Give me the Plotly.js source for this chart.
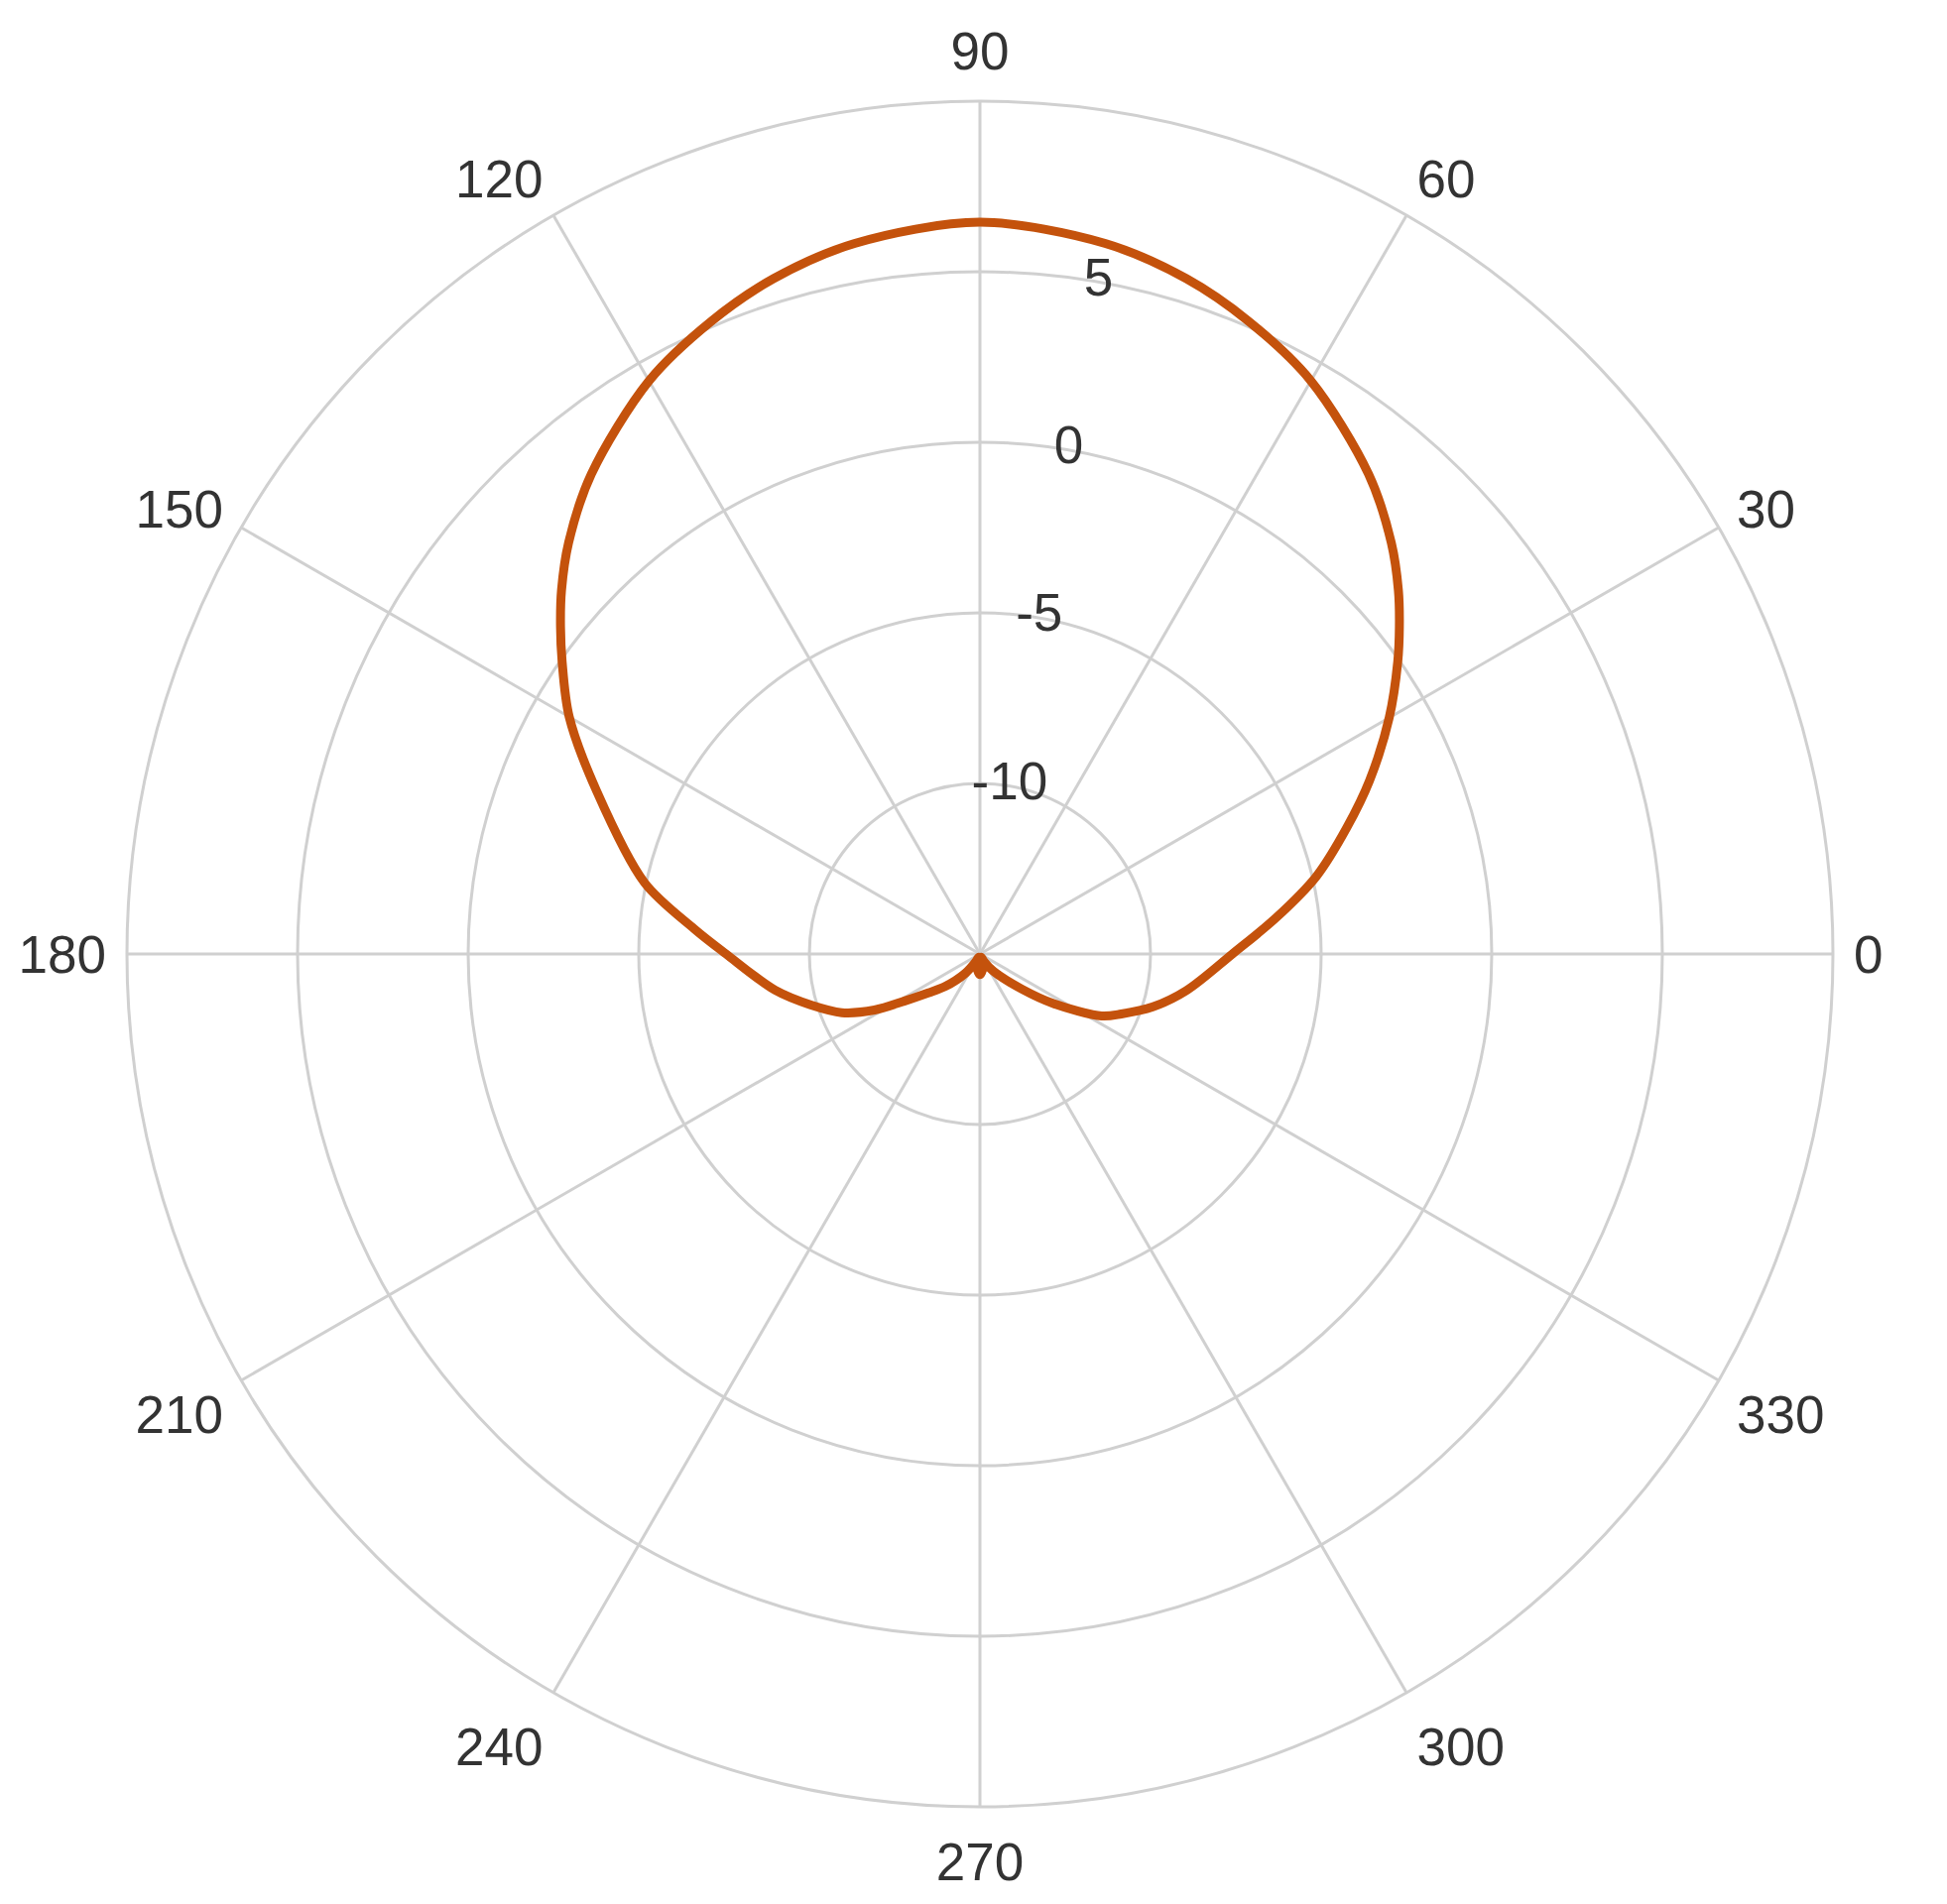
<!DOCTYPE html>
<html>
<head>
<meta charset="utf-8">
<script src="https://cdn.plot.ly/plotly-3.0.1.min.js"></script>
<style>
  html, body { margin: 0; padding: 0; background: #ffffff; }
  #chart { width: 1963px; height: 1920px; }
</style>
</head>
<body>
<div id="chart"></div>
<script>
const angles = [0, 7, 13, 19, 24, 30, 35, 38, 41, 45, 51, 60, 67, 73, 80, 90,
  100, 107, 113, 120, 129, 135, 139, 142, 145, 150, 157, 168, 175, 180,
  190, 197, 203, 208, 212, 217, 223, 233, 242, 250, 260, 270, 280, 290,
  298, 308, 320, 326, 333, 337, 343, 350, 360];
// Gain values (dB) read at those angles
const gainDb = [-7.6, -6.25, -4.88, -3.63, -2.5, -1.15, -0.05, 0.6, 1.25, 2.05, 3.1, 4.4, 5.15, 5.7, 6.15, 6.45,
  6.15, 5.7, 5.15, 4.4, 3.1, 2.05, 1.25, 0.6, -0.05, -1.1, -2.8, -4.95, -6.6, -7.56,
  -8.9, -9.85, -10.6, -11.5, -12.4, -13.1, -13.6, -14.3, -14.75, -14.9, -14.55, -14.4, -14.55, -14.9,
  -14.75, -14.35, -13.4, -12.4, -11.0, -10.5, -9.7, -8.85, -7.6];

const angularTicks = [0, 30, 60, 90, 120, 150, 180, 210, 240, 270, 300, 330];
const angularTickText = ['0', '30', '60', '90', '120', '150', '180', '210', '240', '270', '300', '330'];
const radialTicks = [-10, -5, 0, 5];
const radialTickText = ['-10', '-5', '0', '5'];
const radialLabelAngle = 80;
const radialRange = [-15, 10];

const gridColor = '#d0d0d0';
const textColor = '#333333';
const fontFamily = 'Liberation Sans, Arial, Helvetica, sans-serif';

const curve = {
  type: 'scatterpolar',
  mode: 'lines',
  r: gainDb,
  theta: angles,
  line: { color: '#c4520c', width: 9, shape: 'spline', smoothing: 0.9 },
  hoverinfo: 'skip'
};

// radial tick labels, centred on their rings along one direction
const radialLabels = {
  type: 'scatterpolar',
  mode: 'text',
  r: radialTicks,
  theta: radialTicks.map(() => radialLabelAngle),
  text: radialTickText,
  textposition: 'middle center',
  textfont: { family: fontFamily, size: 53, color: textColor },
  cliponaxis: false,
  hoverinfo: 'skip'
};

const layout = {
  width: 1963,
  height: 1920,
  margin: { l: 128, r: 115, t: 102, b: 98 },
  paper_bgcolor: '#ffffff',
  showlegend: false,
  font: { family: fontFamily, color: textColor, size: 53 },
  polar: {
    bgcolor: '#ffffff',
    domain: { x: [0, 1], y: [0, 1] },
    radialaxis: {
      range: radialRange,
      tickvals: radialTicks,
      ticktext: radialTickText,
      showticklabels: false,
      showline: false,
      ticks: '',
      angle: radialLabelAngle,
      gridcolor: gridColor,
      gridwidth: 3
    },
    angularaxis: {
      direction: 'counterclockwise',
      rotation: 0,
      tickvals: angularTicks,
      ticktext: angularTickText,
      showline: true,
      linecolor: gridColor,
      linewidth: 3,
      gridcolor: gridColor,
      gridwidth: 3,
      ticks: 'outside',
      ticklen: 9,
      tickcolor: 'rgba(0,0,0,0)',
      tickfont: { family: fontFamily, size: 53, color: textColor }
    }
  }
};

Plotly.newPlot('chart', [curve, radialLabels], layout, { displayModeBar: false, staticPlot: true });
</script>
</body>
</html>
